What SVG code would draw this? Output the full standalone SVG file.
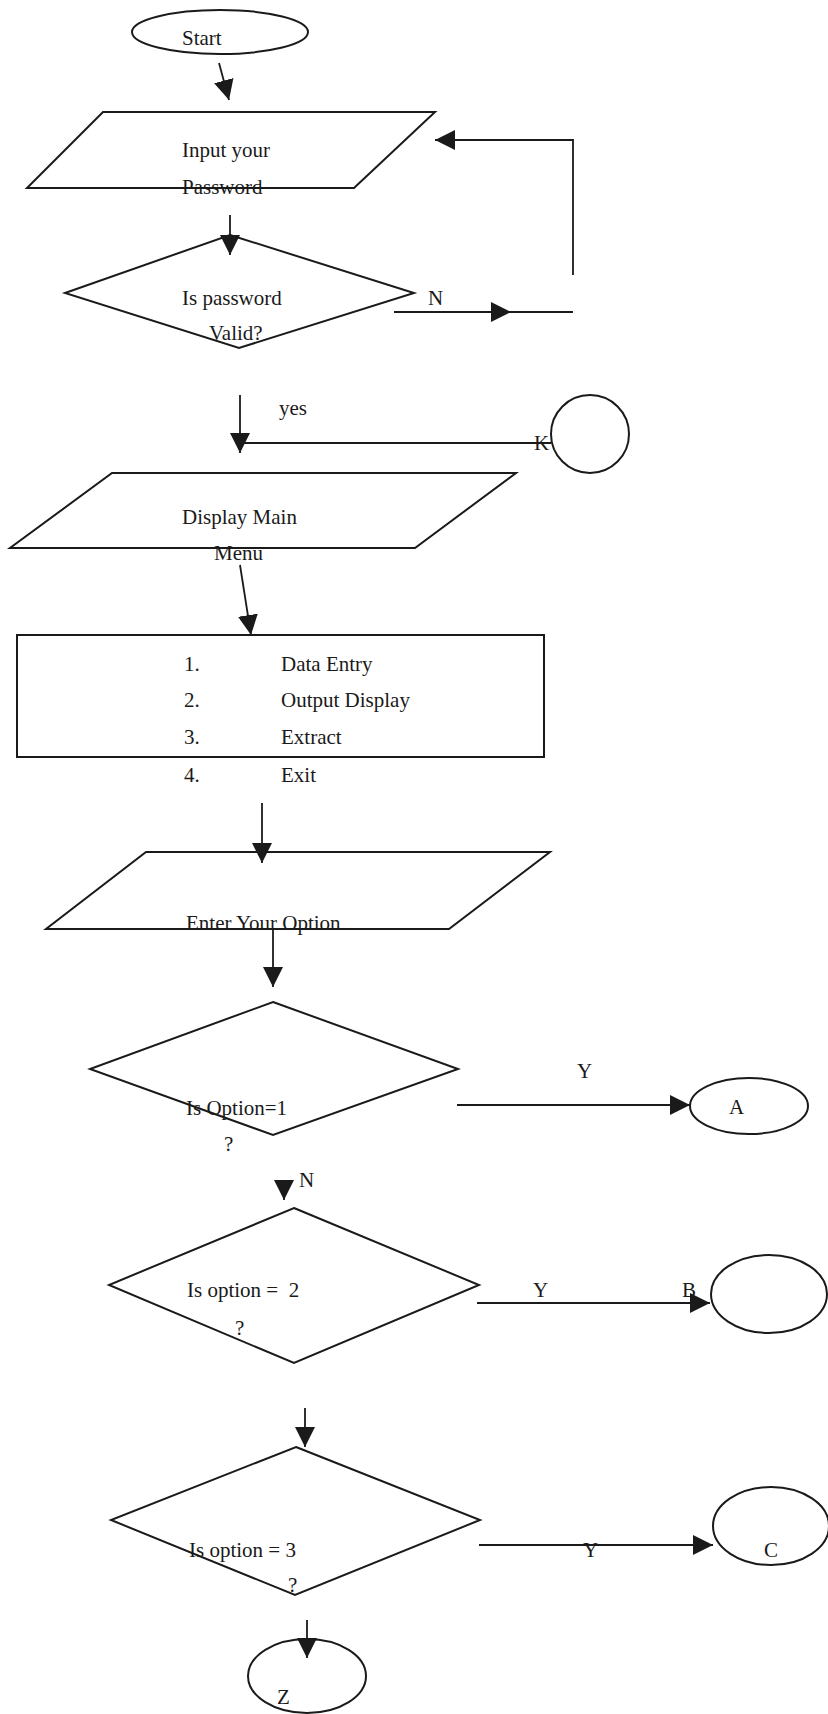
<svg xmlns="http://www.w3.org/2000/svg" width="828" height="1714" viewBox="0 0 828 1714">
<style>
.s{fill:none;stroke:#1a1a1a;stroke-width:2}
.c{fill:none;stroke:#1a1a1a;stroke-width:1.8}
.t{font-family:"Liberation Serif","Times New Roman",serif;font-size:21px;fill:#1a1a1a}
.h{fill:#1a1a1a;stroke:none}
</style>
<defs>
<marker id="ah" markerUnits="userSpaceOnUse" markerWidth="20" markerHeight="20" refX="20" refY="10" orient="auto">
<path d="M0,0 L20,10 L0,20 z" fill="#1a1a1a"/>
</marker>
</defs>
<rect width="828" height="1714" fill="#ffffff"/>

<g id="start">
<ellipse class="s" cx="220" cy="32" rx="88" ry="22"/>
<text class="t" x="182" y="45">Start</text>
</g>

<g id="input-password">
<polygon class="s" points="103,112 435,112 354,188 27,188"/>
<text class="t" x="182" y="157">Input your</text>
<text class="t" x="182" y="194">Password</text>
</g>

<g id="password-valid">
<polygon class="s" points="230,235 414,293 239,348 65,293"/>
<text class="t" x="182" y="305">Is password</text>
<text class="t" x="209" y="340">Valid?</text>
</g>

<g id="connector-k">
<circle class="s" cx="590" cy="434" r="39"/>
<text class="t" x="534" y="450">K</text>
</g>

<g id="display-menu">
<polygon class="s" points="112,473 516,473 415,548 10,548"/>
<text class="t" x="182" y="524">Display Main</text>
<text class="t" x="214" y="560">Menu</text>
</g>

<g id="menu-box">
<rect class="s" x="17" y="635" width="527" height="122"/>
<text class="t" x="184" y="671">1.</text>
<text class="t" x="281" y="671">Data Entry</text>
<text class="t" x="184" y="707">2.</text>
<text class="t" x="281" y="707">Output Display</text>
<text class="t" x="184" y="744">3.</text>
<text class="t" x="281" y="744">Extract</text>
<text class="t" x="184" y="782">4.</text>
<text class="t" x="281" y="782">Exit</text>
</g>

<g id="enter-option">
<polygon class="s" points="146,852 550,852 449,929 46,929"/>
<text class="t" x="186" y="930">Enter Your Option</text>
</g>

<g id="option1">
<polygon class="s" points="273,1002 458,1069 273,1135 90,1069"/>
<text class="t" x="186" y="1115">Is Option=1</text>
<text class="t" x="224" y="1151">?</text>
</g>

<g id="connector-a">
<ellipse class="s" cx="749" cy="1106" rx="59" ry="28"/>
<text class="t" x="729" y="1114">A</text>
</g>

<g id="option2">
<polygon class="s" points="294,1208 479,1285 294,1363 109,1285"/>
<text class="t" x="187" y="1297" xml:space="preserve">Is option =  2</text>
<text class="t" x="235" y="1335">?</text>
</g>

<g id="connector-b">
<ellipse class="s" cx="769" cy="1294" rx="58" ry="39"/>
</g>

<g id="option3">
<polygon class="s" points="296,1447 480,1520 295,1595 111,1520"/>
<text class="t" x="189" y="1557">Is option = 3</text>
<text class="t" x="288" y="1592">?</text>
</g>

<g id="connector-c">
<ellipse class="s" cx="771" cy="1526" rx="58" ry="39"/>
<text class="t" x="764" y="1557">C</text>
</g>

<g id="connector-z">
<ellipse class="s" cx="307" cy="1676" rx="59" ry="37"/>
<text class="t" x="277" y="1704">Z</text>
</g>

<g id="connectors">
<line class="c" x1="219" y1="63" x2="229" y2="100" marker-end="url(#ah)"/>
<line class="c" x1="230" y1="215" x2="230" y2="255" marker-end="url(#ah)"/>
<line class="c" x1="394" y1="312" x2="511" y2="312" marker-end="url(#ah)"/>
<line class="c" x1="511" y1="312" x2="573" y2="312"/>
<polyline class="c" points="573,275 573,140 435,140" marker-end="url(#ah)"/>
<line class="c" x1="240" y1="395" x2="240" y2="453" marker-end="url(#ah)"/>
<line class="c" x1="240" y1="443" x2="551" y2="443"/>
<line class="c" x1="240" y1="565" x2="251" y2="635" marker-end="url(#ah)"/>
<line class="c" x1="262" y1="803" x2="262" y2="863" marker-end="url(#ah)"/>
<line class="c" x1="273" y1="929" x2="273" y2="987" marker-end="url(#ah)"/>
<line class="c" x1="457" y1="1105" x2="690" y2="1105" marker-end="url(#ah)"/>
<line class="c" x1="284" y1="1180" x2="284" y2="1200" marker-end="url(#ah)"/>
<line class="c" x1="477" y1="1303" x2="710" y2="1303" marker-end="url(#ah)"/>
<line class="c" x1="305" y1="1408" x2="305" y2="1447" marker-end="url(#ah)"/>
<line class="c" x1="479" y1="1545" x2="713" y2="1545" marker-end="url(#ah)"/>
<line class="c" x1="307" y1="1620" x2="307" y2="1658" marker-end="url(#ah)"/>
</g>

<g id="labels">
<text class="t" x="428" y="305">N</text>
<text class="t" x="279" y="415">yes</text>
<text class="t" x="577" y="1078">Y</text>
<text class="t" x="299" y="1187">N</text>
<text class="t" x="533" y="1297">Y</text>
<text class="t" x="682" y="1297">B</text>
<text class="t" x="583" y="1557">Y</text>
</g>
</svg>
